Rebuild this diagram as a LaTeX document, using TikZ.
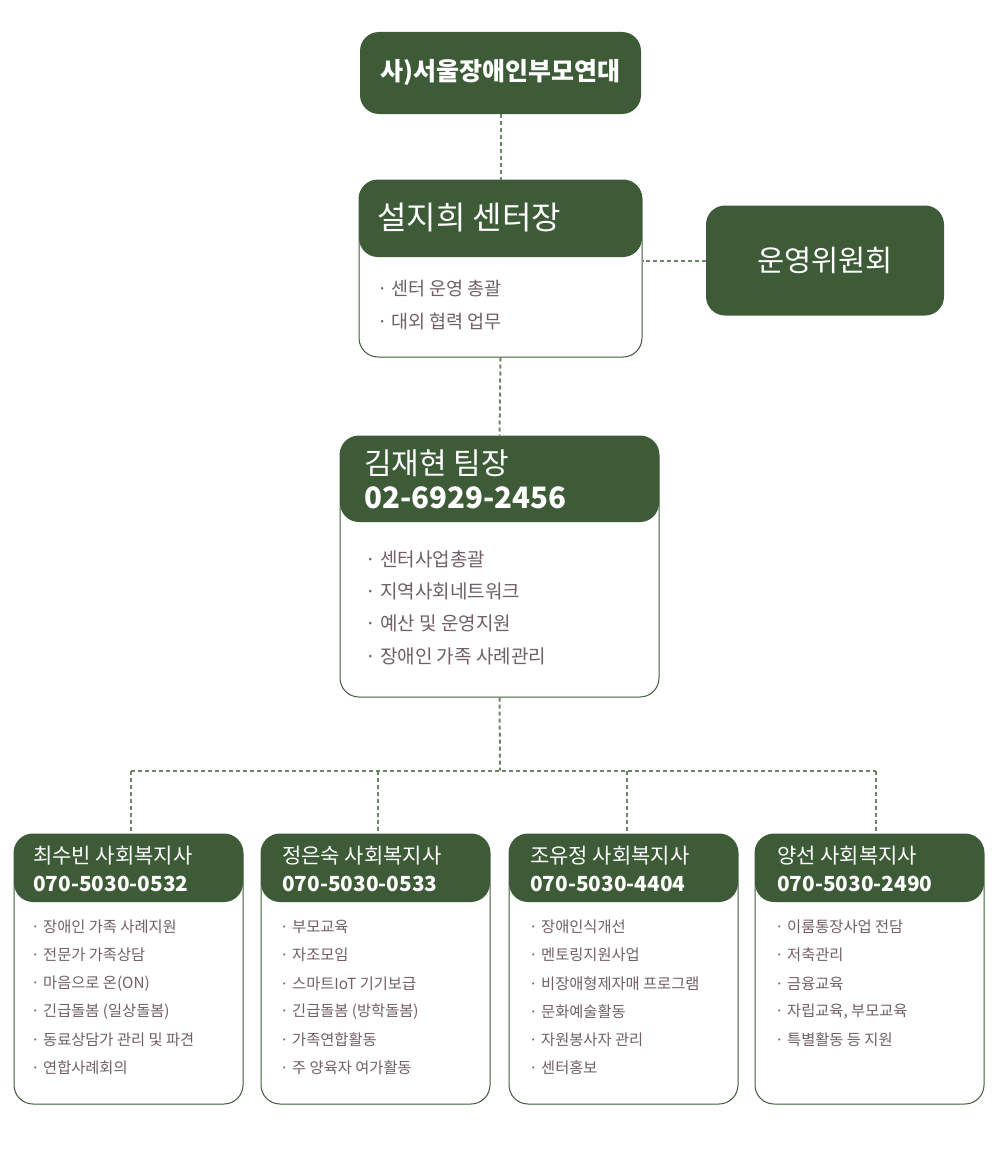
\documentclass[tikz,border=0pt]{standalone}
\usepackage{fontspec}
\setmainfont{Noto Sans CJK KR}
\definecolor{dg}{HTML}{3D5B37}
\definecolor{dl}{HTML}{6B8463}
\definecolor{tx}{HTML}{725F69}
\begin{document}
\begin{tikzpicture}[x=1pt,y=-1pt,
  solidbox/.style={fill=dg, rounded corners=19pt, inner sep=0pt, text=white},
  card/.style={draw=dg, line width=1pt, fill=white, rounded corners=19pt, inner sep=0pt,
    path picture={\fill[dg] (path picture bounding box.north west) rectangle ([yshift=-#1]path picture bounding box.north east);}},
  conn/.style={draw=dl, line width=2pt, dash pattern=on 4pt off 3pt},
  lbl/.style={anchor=west, inner sep=0pt},
  hd/.style={lbl, text=white},
  bl/.style={lbl, text=tx}]
\useasboundingbox (0,0) rectangle (1000,1172);

% top boxes
\node[solidbox, minimum width=281pt, minimum height=82pt, font=\fontsize{25}{29}\selectfont\bfseries] (top) at (500.5,73) {사)서울장애인부모연대};
\node[card=77pt, minimum width=283pt, minimum height=177pt] (s) at (500.5,268.5) {};
\node[hd, font=\fontsize{32}{36}\selectfont] (st) at (377,218) {설지희 센터장};
\node[bl, font=\fontsize{18.5}{21}\selectfont] (s1) at (377,289) {\makebox[14pt][l]{·}센터 운영 총괄};
\node[bl, font=\fontsize{18.5}{21}\selectfont] (s2) at (377,322) {\makebox[14pt][l]{·}대외 협력 업무};
\node[solidbox, minimum width=238pt, minimum height=110pt, font=\fontsize{29.5}{33}\selectfont] (com) at (825,260.5) {운영위원회};

% team leader
\node[card=86pt, minimum width=319pt, minimum height=261pt] (k) at (499.5,566.5) {};
\node[hd, font=\fontsize{30}{33}\selectfont] (kt1) at (364,463) {김재현 팀장};
\node[hd, font=\fontsize{29.5}{32}\selectfont\bfseries] (kt2) at (364,498) {02-6929-2456};
\foreach \t [count=\i] in {센터사업총괄, 지역사회네트워크, 예산 및 운영지원, 장애인 가족 사례관리}
  \node[bl, font=\fontsize{19}{21}\selectfont] (k\i) at (365,{559+32.3*(\i-1)}) {\makebox[15pt][l]{·}\t};

% connectors (upper)
\draw[conn] (top.south) -- (s.north);
\draw[conn] (s.south) -- (k.north);
\draw[conn] (com.west) -- (com.west -| s.east);

% bottom cards
\node[card=68pt, minimum width=229pt, minimum height=270pt] (b1) at (128.5,969) {};
\node[card=68pt, minimum width=229pt, minimum height=270pt] (b2) at (375.5,969) {};
\node[card=68pt, minimum width=229pt, minimum height=270pt] (b3) at (623.5,969) {};
\node[card=68pt, minimum width=229pt, minimum height=270pt] (b4) at (869.5,969) {};

\coordinate (j) at (500,770.5);
\coordinate (d1) at (131,770.5);
\coordinate (d2) at (378,770.5);
\coordinate (d3) at (627,770.5);
\coordinate (d4) at (876,770.5);
\draw[conn] (k.south) -- (j);
\draw[conn] (d1) -- (d4);
\foreach \n in {1,2,3,4}
  \draw[conn] (d\n) -- (d\n |- b\n.north);

% bottom headers
\foreach \n/\x/\nm/\ph in {1/33/최수빈 사회복지사/070-5030-0532, 2/282/정은숙 사회복지사/070-5030-0533, 3/530/조유정 사회복지사/070-5030-4404, 4/777/양선 사회복지사/070-5030-2490}{
  \node[hd, font=\fontsize{21}{24}\selectfont] (h\n a) at (\x,856) {\nm};
  \node[hd, font=\fontsize{20.8}{24}\selectfont\bfseries] (h\n b) at (\x,884) {\ph};
}

% bottom items
\foreach \t [count=\i] in {장애인 가족 사례지원, 전문가 가족상담, 마음으로 온(ON), 긴급돌봄 (일상돌봄), 동료상담가 관리 및 파견, 연합사례회의}
  \node[bl, font=\fontsize{15.3}{18}\selectfont] (p1\i) at (31,{927+28.2*(\i-1)}) {\makebox[12pt][l]{·}\t};
\foreach \t [count=\i] in {부모교육, 자조모임, 스마트IoT 기기보급, 긴급돌봄 (방학돌봄), 가족연합활동, 주 양육자 여가활동}
  \node[bl, font=\fontsize{15.3}{18}\selectfont] (p2\i) at (280,{927+28.2*(\i-1)}) {\makebox[12pt][l]{·}\t};
\foreach \t [count=\i] in {장애인식개선, 멘토링지원사업, 비장애형제자매 프로그램, 문화예술활동, 자원봉사자 관리, 센터홍보}
  \node[bl, font=\fontsize{15.3}{18}\selectfont] (p3\i) at (529,{927+28.2*(\i-1)}) {\makebox[12pt][l]{·}\t};
\foreach \t [count=\i] in {이룸통장사업 전담, 저축관리, 금융교육, {자립교육, 부모교육}, 특별활동 등 지원}
  \node[bl, font=\fontsize{15.3}{18}\selectfont] (p4\i) at (775,{927+28.2*(\i-1)}) {\makebox[12pt][l]{·}\t};
\end{tikzpicture}
\end{document}
